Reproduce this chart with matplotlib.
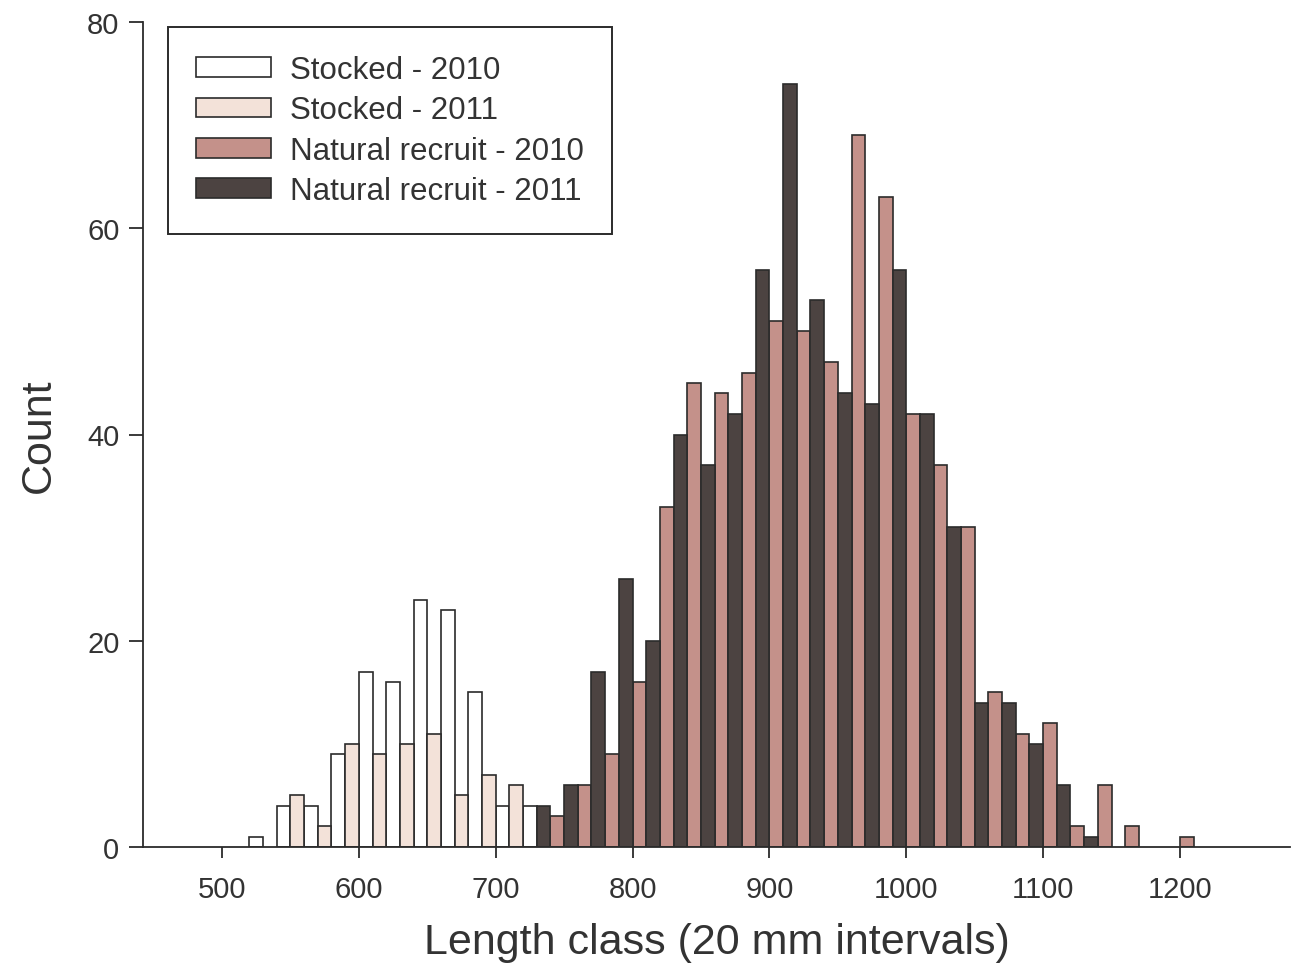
import matplotlib
matplotlib.use("Agg")
import matplotlib.pyplot as plt
import numpy as np

# Length classes (start of each 20 mm interval)
length_class = list(range(520, 1201, 20))

stocked_2010 = [1, 4, 4, 9, 17, 16, 24, 23, 15, 4, 4, 0, 0, 0, 0, 0, 0, 0,
                0, 0, 0, 0, 0, 0, 0, 0, 0, 0, 0, 0, 0, 0, 0, 0, 0]
stocked_2011 = [0, 5, 2, 10, 9, 10, 11, 5, 7, 6, 0, 0, 0, 0, 0, 0, 0, 0,
                0, 0, 0, 0, 0, 0, 0, 0, 0, 0, 0, 0, 0, 0, 0, 0, 0]
natural_2010 = [0, 0, 0, 0, 0, 0, 0, 0, 0, 0, 0, 3, 6, 9, 16, 33, 45, 44,
                46, 51, 50, 47, 69, 63, 42, 37, 31, 15, 11, 12, 2, 6, 2, 0, 1]
natural_2011 = [0, 0, 0, 0, 0, 0, 0, 0, 0, 0, 4, 6, 17, 26, 20, 40, 37, 42,
                56, 74, 53, 44, 43, 56, 42, 31, 14, 14, 10, 6, 1, 0, 0, 0, 0]

labels = ["Stocked - 2010", "Stocked - 2011",
          "Natural recruit - 2010", "Natural recruit - 2011"]
colors = ["#ffffff", "#f3e2d9", "#c4918a", "#4c4341"]
edge = "#2b2b2b"
txt = "#333333"

plt.rcParams['font.family'] = ['Liberation Sans', 'DejaVu Sans']

fig = plt.figure(figsize=(13.01, 9.70), dpi=100)
ax = fig.add_axes([143/1301, 1-848/970, (1290-143)/1301, (848-23)/970])

lc = np.array(length_class)
series = [stocked_2010, stocked_2011, natural_2010, natural_2011]
offsets = [5, 15, 5, 15]  # 2010 left half, 2011 right half of each interval
handles = []
for vals, off, col, lab in zip(series, offsets, colors, labels):
    v = np.array(vals)
    m = v > 0
    h = ax.bar(lc[m] + off, v[m], width=10, color=col, edgecolor=edge,
               linewidth=1.2, label=lab)
    handles.append(h)

ax.set_xlim(442.3, 1280.4)
ax.set_ylim(0, 80)
ax.set_xticks(range(500, 1201, 100))
ax.set_yticks(range(0, 81, 20))
for s in ['top', 'right']:
    ax.spines[s].set_visible(False)
for s in ['left', 'bottom']:
    ax.spines[s].set_color(edge)
    ax.spines[s].set_linewidth(1.3)
ax.tick_params(axis='x', direction='out', length=8, width=1.3, colors=edge,
               labelsize=21, labelcolor=txt, pad=12)
ax.tick_params(axis='y', direction='out', length=10, width=1.3, colors=edge,
               labelsize=21, labelcolor=txt, pad=7)
ax.set_xlabel("Length class (20 mm intervals)", fontsize=31, color=txt, labelpad=14)
ax.set_ylabel("Count", fontsize=31, color=txt, labelpad=20)

leg = ax.legend(handles=handles, loc='upper left',
                bbox_to_anchor=(168/1301, 1-28/970), bbox_transform=fig.transFigure,
                borderaxespad=0, fontsize=22.5, handlelength=2.4, handleheight=0.6,
                labelspacing=0.33, handletextpad=0.6, borderpad=0.9,
                fancybox=False, framealpha=1, edgecolor=edge)
leg.get_frame().set_linewidth(1.4)
for t in leg.get_texts():
    t.set_color(txt)

fig.savefig("out.png", dpi=100)
